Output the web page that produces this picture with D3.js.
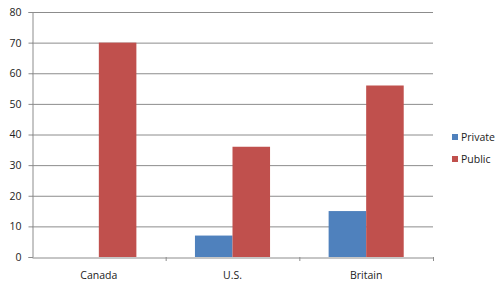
<!DOCTYPE html>
<html>
<head>
<meta charset="utf-8">
<script src="https://cdn.jsdelivr.net/npm/d3@7"></script>
<style>
  body { margin: 0; background: #fff; }
  text { font-family: "Open Sans", "DejaVu Sans", sans-serif; fill: #222; }
</style>
</head>
<body>
<div id="chart"></div>
<script>
// chart data
var countries = ["Canada", "U.S.", "Britain"];
var seriesNames = ["Private", "Public"];
var privateVals = [0, 7, 15];
var publicVals = [70, 36, 56];
var yTicks = [0, 10, 20, 30, 40, 50, 60, 70, 80];
var colors = ["#4f81bd", "#c0504d"];

var svgWidth = 500;
var svgHeight = 285;
var margin = { top: 12, right: 67, bottom: 28, left: 32 };
var width = svgWidth - margin.left - margin.right;
var height = svgHeight - margin.top - margin.bottom;

var svg = d3.select("#chart")
    .append("svg")
    .attr("width", svgWidth)
    .attr("height", svgHeight);

var g = svg.append("g")
    .attr("transform", `translate(${margin.left}, ${margin.top})`);

var x = d3.scaleBand()
    .domain(countries)
    .range([0, width])
    .paddingInner(0);

// two bars per group, ~150% gap width
var x1 = d3.scaleBand()
    .domain(seriesNames)
    .range([0, x.bandwidth()])
    .paddingOuter(0.78)
    .paddingInner(0);

var y = d3.scaleLinear()
    .domain([0, 80])
    .range([height, 0]);

// gridlines
g.selectAll(".grid")
    .data(yTicks.filter(d => d > 0))
    .enter()
    .append("line")
    .attr("x1", 0)
    .attr("x2", width)
    .attr("y1", d => y(d) + 0.5)
    .attr("y2", d => y(d) + 0.5)
    .attr("stroke", "#8c8c8c")
    .attr("stroke-width", 1);

// y axis
var yAxis = g.append("g")
    .attr("transform", "translate(0.5,0)")
    .call(d3.axisLeft(y).tickValues(yTicks).tickSize(4).tickPadding(7));
yAxis.selectAll("text").style("font-size", "10.5px");
yAxis.selectAll("line, path").attr("stroke", "#8c8c8c");

// x axis
var xAxis = g.append("g")
    .attr("transform", `translate(0, ${height + 0.5})`)
    .call(d3.axisBottom(x).tickSize(0).tickPadding(14));
xAxis.selectAll("text").style("font-size", "10.5px");
xAxis.select("path").attr("stroke", "#8c8c8c");

// category tick marks between groups
g.selectAll(".xtick")
    .data(countries.slice(1).concat(["end"]))
    .enter()
    .append("line")
    .attr("x1", (d, i) => (i + 1) * x.bandwidth() + 0.5)
    .attr("x2", (d, i) => (i + 1) * x.bandwidth() + 0.5)
    .attr("y1", height)
    .attr("y2", height + 4)
    .attr("stroke", "#8c8c8c");

var rows = countries.map((c, i) => ({ country: c, values: [privateVals[i], publicVals[i]] }));

var groups = g.selectAll(".group")
    .data(rows)
    .enter()
    .append("g")
    .attr("transform", d => `translate(${x(d.country)},0)`);

groups.selectAll("rect")
    .data(d => d.values.map((v, j) => ({ key: seriesNames[j], value: v, j: j })))
    .enter()
    .append("rect")
    .attr("x", d => x1(d.key))
    .attr("width", x1.bandwidth())
    .attr("y", d => y(d.value))
    .attr("height", d => height - y(d.value))
    .attr("fill", d => colors[d.j]);

// legend
var legend = svg.append("g")
    .attr("transform", "translate(452, 134)");

var items = legend.selectAll("g")
    .data(seriesNames)
    .enter()
    .append("g")
    .attr("transform", (d, i) => `translate(0, ${i * 22})`);

items.append("rect")
    .attr("width", 6)
    .attr("height", 6)
    .attr("fill", (d, i) => colors[i]);

items.append("text")
    .attr("x", 9)
    .attr("y", 3)
    .attr("dy", "0.35em")
    .style("font-size", "10.5px")
    .text(d => d);
</script>
</body>
</html>
